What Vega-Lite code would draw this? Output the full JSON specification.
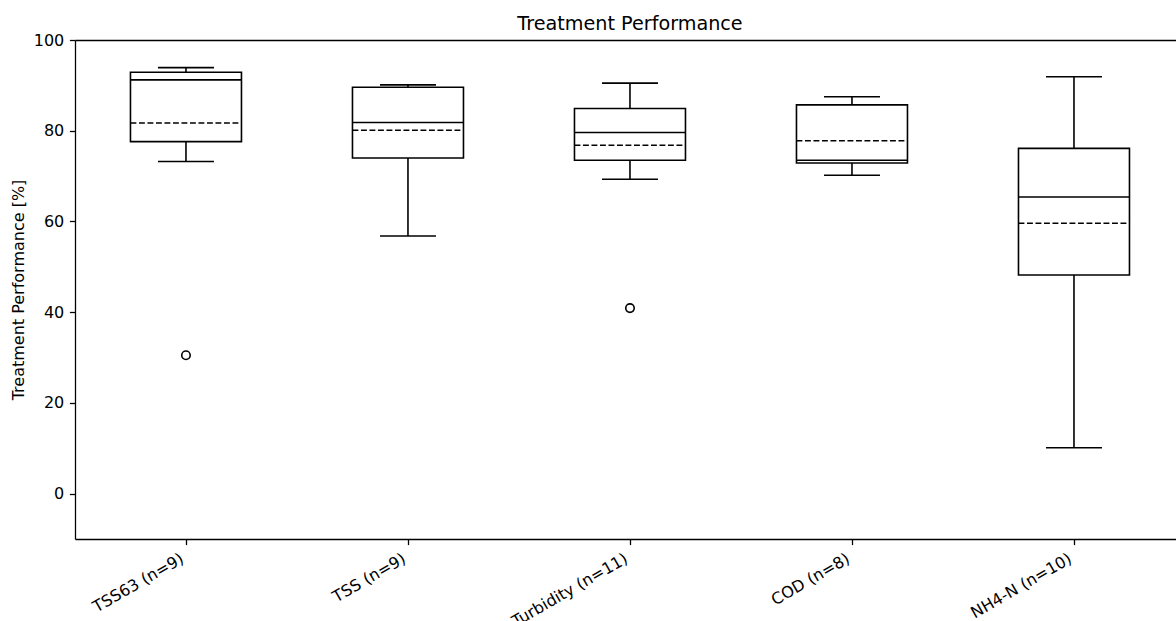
{
  "$schema": "https://vega.github.io/schema/vega-lite/v6.json",
  "width": 1101,
  "height": 499,
  "autosize": {"type": "none"},
  "padding": {"left": 75, "top": 40, "right": 0, "bottom": 82},
  "background": "white",
  "config": {
    "font": "DejaVu Sans",
    "view": {"stroke": null},
    "axis": {
      "grid": false,
      "domainColor": "black",
      "tickColor": "black",
      "labelColor": "black",
      "titleColor": "black",
      "domainWidth": 1.28,
      "tickWidth": 1.28,
      "tickSize": 5.6,
      "labelPadding": 5.6,
      "labelFontSize": 16,
      "titleFontSize": 16,
      "titleFontWeight": "normal"
    }
  },
  "title": {"text": "Treatment Performance", "fontSize": 19.2, "fontWeight": "normal", "color": "black", "anchor": "middle", "dx": 4.5, "offset": -2},
  "datasets": {
    "stats": [
      {"cat": "TSS63 (n=9)", "lower": 73.2, "q1": 77.6, "median": 91.2, "q3": 92.9, "upper": 93.9, "mean": 81.7},
      {"cat": "TSS (n=9)", "lower": 56.8, "q1": 74.0, "median": 81.8, "q3": 89.6, "upper": 90.1, "mean": 80.1},
      {"cat": "Turbidity (n=11)", "lower": 69.3, "q1": 73.5, "median": 79.6, "q3": 84.9, "upper": 90.5, "mean": 76.8},
      {"cat": "COD (n=8)", "lower": 70.2, "q1": 72.9, "median": 73.5, "q3": 85.7, "upper": 87.5, "mean": 77.8},
      {"cat": "NH4-N (n=10)", "lower": 10.1, "q1": 48.2, "median": 65.4, "q3": 76.1, "upper": 91.9, "mean": 59.6}
    ],
    "outliers": [
      {"cat": "TSS63 (n=9)", "value": 30.5},
      {"cat": "Turbidity (n=11)", "value": 40.9}
    ]
  },
  "layer": [
    {
      "data": {"name": "stats"},
      "mark": {"type": "rule", "color": "black", "strokeWidth": 1.6},
      "encoding": {
        "x": {
          "field": "cat", "type": "nominal", "sort": null,
          "scale": {"type": "point", "domain": ["TSS63 (n=9)", "TSS (n=9)", "Turbidity (n=11)", "COD (n=8)", "NH4-N (n=10)"], "padding": 0.4797, "align": 0.521},
          "axis": {"orient": "bottom", "title": null, "labelAngle": -30, "labelAlign": "right", "labelBaseline": "top", "labelOffset": -8}
        },
        "y": {
          "field": "lower", "type": "quantitative",
          "scale": {"domain": [-10, 100], "nice": false, "zero": false},
          "axis": {"values": [0, 20, 40, 60, 80, 100], "title": "Treatment Performance [%]", "titleAngle": -90, "titleX": -57, "titleY": 249.5, "titleAlign": "center", "titleBaseline": "middle"}
        },
        "y2": {"field": "q1"}
      }
    },
    {
      "data": {"name": "stats"},
      "mark": {"type": "rule", "color": "black", "strokeWidth": 1.6},
      "encoding": {
        "x": {"field": "cat", "type": "nominal", "sort": null, "axis": {"orient": "top", "labels": false, "ticks": false, "title": null, "domain": true}},
        "y": {"field": "q3", "type": "quantitative"},
        "y2": {"field": "upper"}
      }
    },
    {
      "data": {"name": "stats"},
      "mark": {"type": "rule", "color": "black", "strokeWidth": 1.6, "xOffset": -28, "x2Offset": 28},
      "encoding": {
        "x": {"field": "cat", "type": "nominal", "sort": null, "axis": null},
        "x2": {"field": "cat"},
        "y": {"field": "lower", "type": "quantitative"}
      }
    },
    {
      "data": {"name": "stats"},
      "mark": {"type": "rule", "color": "black", "strokeWidth": 1.6, "xOffset": -28, "x2Offset": 28},
      "encoding": {
        "x": {"field": "cat", "type": "nominal", "sort": null, "axis": null},
        "x2": {"field": "cat"},
        "y": {"field": "upper", "type": "quantitative"}
      }
    },
    {
      "data": {"name": "stats"},
      "mark": {"type": "rect", "fill": "white", "stroke": "black", "strokeWidth": 1.6, "xOffset": -55.5, "x2Offset": 55.5},
      "encoding": {
        "x": {"field": "cat", "type": "nominal", "sort": null, "axis": null},
        "x2": {"field": "cat"},
        "y": {"field": "q1", "type": "quantitative"},
        "y2": {"field": "q3"}
      }
    },
    {
      "data": {"name": "stats"},
      "mark": {"type": "rule", "color": "black", "strokeWidth": 1.6, "xOffset": -55.5, "x2Offset": 55.5},
      "encoding": {
        "x": {"field": "cat", "type": "nominal", "sort": null, "axis": null},
        "x2": {"field": "cat"},
        "y": {"field": "median", "type": "quantitative"}
      }
    },
    {
      "data": {"name": "stats"},
      "mark": {"type": "rule", "color": "black", "strokeWidth": 1.6, "strokeDash": [5.9, 2.6], "xOffset": -55.5, "x2Offset": 55.5},
      "encoding": {
        "x": {"field": "cat", "type": "nominal", "sort": null, "axis": null},
        "x2": {"field": "cat"},
        "y": {"field": "mean", "type": "quantitative"}
      }
    },
    {
      "data": {"name": "outliers"},
      "mark": {"type": "point", "shape": "circle", "filled": false, "stroke": "black", "strokeWidth": 1.6, "size": 72, "opacity": 1},
      "encoding": {
        "x": {"field": "cat", "type": "nominal", "sort": null, "axis": null},
        "y": {"field": "value", "type": "quantitative"}
      }
    }
  ],
  "resolve": {"axis": {"x": "independent"}}
}
